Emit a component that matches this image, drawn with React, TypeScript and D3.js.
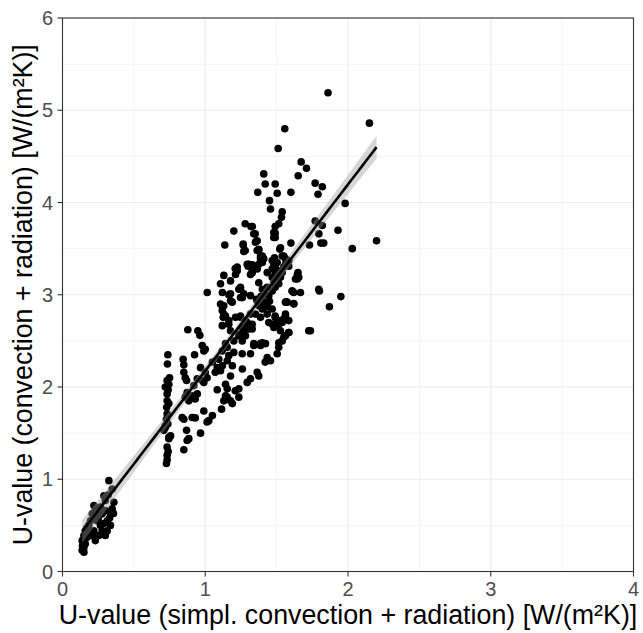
import React from "react";
import * as d3 from "d3";

// Read-off data: [simplified U-value, full U-value] in W/(m²K)
const lowCluster: [number, number][] = [
  [0.325,0.985],[0.348,0.895],[0.29,0.82],[0.30,0.77],[0.22,0.715],[0.23,0.66],[0.208,0.625],[0.196,0.55],
  [0.184,0.50],[0.16,0.44],[0.15,0.39],[0.138,0.335],[0.15,0.26],[0.243,0.55],[0.266,0.50],[0.278,0.44],
  [0.30,0.39],[0.313,0.55],[0.336,0.625],[0.348,0.68],[0.23,0.335],[0.255,0.39],[0.22,0.44],[0.173,0.37],
  [0.16,0.30],[0.336,0.50],[0.36,0.75],[0.30,0.66],[0.278,0.625],[0.138,0.23],[0.21,0.39],[0.313,0.44],
  [0.243,0.61],[0.266,0.70],[0.357,0.63],[0.32,0.83],[0.14,0.28],[0.15,0.21],[0.17,0.47],[0.25,0.57],
  [0.29,0.52],[0.145,0.32],[0.19,0.42],[0.33,0.58],
];

const stackCluster: [number, number][] = [
  [0.738,2.35],[0.733,2.07],[0.72,2.0],[0.733,1.925],[0.745,2.03],[0.733,1.85],[0.733,1.71],[0.728,1.65],
  [0.738,1.60],[0.72,1.56],[0.745,1.455],[0.733,1.35],[0.733,1.26],[0.728,1.17],[0.745,1.44],[0.757,1.47],
  [0.71,1.53],[0.72,1.58],[0.733,1.21],[0.74,1.30],[0.73,1.78],[0.74,1.97],[0.75,2.10],[0.735,2.25],[0.745,1.82],
];

const midCluster: [number, number][] = [
  [0.878,2.62],[0.948,2.61],[0.962,2.56],[0.845,2.30],[0.85,2.24],[0.925,2.35],[0.979,2.45],[0.99,2.39],
  [1.0,2.41],[0.85,2.16],[0.86,2.10],[0.869,2.07],[0.873,1.94],[0.86,1.89],[0.885,1.85],[0.908,1.905],
  [0.93,1.87],[0.944,1.925],[0.838,1.67],[0.85,1.65],[0.908,1.67],[0.93,1.665],[0.99,1.74],[1.05,1.69],
  [1.025,1.635],[1.013,1.62],[0.869,1.53],[0.885,1.44],[0.873,1.42],[0.85,1.32],[0.967,1.50],[1.114,1.76],
  [1.154,1.89],[1.13,1.85],[1.084,1.97],[1.142,2.03],[1.154,1.98],[1.142,1.905],[1.177,1.85],[1.19,1.82],
  [1.235,1.89],[1.235,1.98],[1.21,1.96],[1.177,2.12],[1.26,2.195],[1.19,2.23],[1.154,2.285],[1.12,2.23],
  [1.084,2.21],[1.05,2.27],[1.095,2.30],[1.07,2.16],[0.967,2.21],[1.0,2.16],[1.013,2.10],[0.99,2.05],
  [0.979,2.07],[0.944,2.09],[0.92,2.015],[1.294,2.05],[1.317,2.09],[1.364,2.16],[1.375,2.12],[1.42,2.27],
  [1.457,2.285],[1.434,2.32],[1.504,2.36],[1.515,2.43],[1.539,2.50],[1.562,2.556],[1.585,2.59],
  [1.107,2.177],[1.165,2.34],[1.119,2.39],[1.154,2.43],[1.20,2.375],[1.259,2.36],[1.317,2.36],[1.34,2.45],
  [1.387,2.47],[1.422,2.47],
];

const coreCluster: [number, number][] = [
  [1.107,2.90],[1.119,2.83],[1.126,2.755],[1.142,2.77],[1.165,2.68],[1.177,2.61],[1.212,2.755],[1.247,2.77],
  [1.282,2.72],[1.317,2.79],[1.329,2.68],[1.259,2.645],[1.305,2.63],[1.364,2.935],[1.40,2.88],[1.434,2.90],
  [1.725,2.61],[1.562,2.79],[1.539,2.72],[1.49,2.755],[1.504,2.665],[1.48,2.68],[1.62,2.905],[1.574,2.92],
  [1.266,3.55],[1.27,3.47],[1.34,3.66],[1.352,3.57],[1.375,3.49],[1.387,3.42],[1.40,3.35],[1.41,3.39],
  [1.49,3.62],[1.48,3.675],[1.522,3.495],[1.539,3.42],[1.504,3.35],[1.48,3.31],[1.13,3.21],[1.224,3.30],
  [1.212,3.22],[1.107,3.12],[1.014,3.025],[1.294,3.33],[1.434,3.24],[1.469,3.19],[1.562,3.33],[1.585,3.37],
  [1.645,3.22],[1.655,3.19],[1.609,3.04],[1.667,3.025],[1.795,3.06],[1.177,3.01],[1.189,2.92],[1.247,3.06],
  [1.259,2.97],[1.119,2.88],[1.13,2.79],[1.165,2.72],[1.119,2.665],[1.55,2.74],[1.585,2.72],[1.515,2.68],
  [1.48,2.645],[1.527,2.61],[1.585,2.59],[1.737,2.61],[1.20,2.50],[1.235,2.575],[1.27,2.61],[1.34,2.47],
  [1.387,2.45],[1.142,2.47],
  [1.305,3.33],[1.329,3.26],[1.387,3.39],[1.375,3.33],[1.469,3.37],[1.49,3.31],[1.515,3.26],[1.562,3.39],
  [1.585,3.31],[1.224,3.26],[1.235,3.06],[1.259,2.97],[1.375,3.13],[1.40,3.06],[1.434,3.08],[1.445,2.99],
  [1.469,3.04],[1.49,3.08],[1.504,3.15],[1.527,3.19],[1.539,3.24],[1.632,3.17],[1.609,3.04],[1.562,2.92],
  [1.41,2.92],[1.40,2.845],[1.375,2.88],[1.352,2.79],[1.387,2.755],[1.434,2.79],[1.469,2.845],[1.445,2.70],
  [1.247,2.755],[1.294,2.70],[1.305,2.645],[1.235,2.556],[1.282,2.556],[1.329,2.63],[1.49,2.77],[1.515,2.72],
  [1.562,2.77],[1.469,2.68],[1.539,2.70],[1.55,2.54],[1.40,2.48],[1.515,2.48],[1.259,2.50],
  [1.36,2.95],[1.39,2.98],[1.42,3.0],[1.45,2.93],[1.43,2.87],[1.38,2.90],
];

const upperCluster: [number, number][] = [
  [1.86,5.19],[2.15,4.86],[1.557,4.80],[1.511,4.585],[1.672,4.44],[1.709,4.37],[1.651,4.29],[1.41,4.31],
  [1.42,4.20],[1.49,4.20],[1.368,4.11],[1.504,4.10],[1.60,4.11],[1.77,4.21],[1.82,4.17],[1.79,4.09],
  [1.98,3.99],[1.45,4.02],[1.457,3.93],[1.539,3.90],[1.534,3.84],[1.49,3.74],[1.515,3.77],[1.48,3.62],
  [1.49,3.67],[1.33,3.74],[1.35,3.66],[1.364,3.585],[1.375,3.49],[1.40,3.42],[1.527,3.51],[1.55,3.42],
  [1.60,3.56],[1.77,3.80],[1.82,3.75],[1.796,3.66],[1.81,3.56],[1.83,3.56],[1.73,3.54],[1.93,3.70],
  [2.03,3.50],[2.20,3.585],[1.485,3.40],[1.20,3.69],[1.28,3.77],[1.32,3.74],[1.137,3.54],[1.266,3.54],
  [1.28,3.48],[1.364,3.48],[1.387,3.35],[1.21,3.285],[1.177,3.15],[1.12,3.025],[1.165,3.0],[1.177,2.935],
  [1.13,2.88],[1.247,3.08],[1.27,3.01],[1.247,2.97],[1.317,2.99],[1.30,3.31],[1.33,3.325],[1.317,3.22],
  [1.364,3.28],[1.33,3.24],[1.48,3.35],[1.469,3.28],[1.49,3.22],[1.50,3.19],[1.527,3.24],[1.48,3.15],
  [1.515,3.12],[1.55,3.30],[1.65,3.24],[1.645,3.17],[1.62,3.025],[1.80,3.04],[1.95,2.98],[1.87,2.87],
  [1.567,2.92],[1.62,2.90],
];

const xTicks = [0, 1, 2, 3, 4];
const yTicks = [0, 1, 2, 3, 4, 5, 6];
const xMinor = [0.5, 1.5, 2.5, 3.5];
const yMinor = [0.5, 1.5, 2.5, 3.5, 4.5, 5.5];
const xTitle = "U-value (simpl. convection + radiation) [W/(m²K)]";
const yTitle = "U-value (convection + radiation) [W/(m²K)]";

const W = 643, H = 633;
const left = 62.5, right = 633.5, top = 18, bottom = 571.5;

export default function App() {
  const data = [...lowCluster, ...stackCluster, ...midCluster, ...coreCluster, ...upperCluster];
  const x = d3.scaleLinear().domain([0, 4]).range([left, right]);
  const y = d3.scaleLinear().domain([0, 6]).range([bottom, top]);

  // linear model fit (geom_smooth method = "lm") with 95% CI
  const n = data.length;
  const mx = d3.mean(data, d => d[0])!;
  const my = d3.mean(data, d => d[1])!;
  const sxx = d3.sum(data, d => (d[0] - mx) ** 2);
  const sxy = d3.sum(data, d => (d[0] - mx) * (d[1] - my));
  const b = sxy / sxx;
  const a = my - b * mx;
  const sse = d3.sum(data, d => (d[1] - (a + b * d[0])) ** 2);
  const s = Math.sqrt(sse / (n - 2));
  const t = 1.968;
  const [xmin, xmax] = d3.extent(data, d => d[0]) as [number, number];
  const grid = d3.range(0, 81).map(i => xmin + (xmax - xmin) * i / 80);
  const fit = grid.map(g => {
    const yh = a + b * g;
    const se = s * Math.sqrt(1 / n + (g - mx) ** 2 / sxx);
    return { g, yh, lo: yh - t * se, hi: yh + t * se };
  });
  const band = d3.area<typeof fit[0]>().x(d => x(d.g)).y0(d => y(d.lo)).y1(d => y(d.hi))(fit) || "";
  const line = d3.line<typeof fit[0]>().x(d => x(d.g)).y(d => y(d.yh))(fit) || "";

  const font = "'Liberation Sans', Arial, Helvetica, sans-serif";

  return (
    <svg width={W} height={H} style={{ position: "absolute", left: 0, top: 0, display: "block", background: "#fff" }} fontFamily={font}>
      <rect x={0} y={0} width={W} height={H} fill="#fff" />
      {xMinor.map(v => <line key={"xm" + v} x1={x(v)} x2={x(v)} y1={top} y2={bottom} stroke="#ebebeb" strokeWidth={0.55} />)}
      {yMinor.map(v => <line key={"ym" + v} y1={y(v)} y2={y(v)} x1={left} x2={right} stroke="#ebebeb" strokeWidth={0.55} />)}
      {xTicks.map(v => <line key={"xM" + v} x1={x(v)} x2={x(v)} y1={top} y2={bottom} stroke="#ebebeb" strokeWidth={1.1} />)}
      {yTicks.map(v => <line key={"yM" + v} y1={y(v)} y2={y(v)} x1={left} x2={right} stroke="#ebebeb" strokeWidth={1.1} />)}
      <g>
        {data.map((d, i) => <circle key={i} cx={x(d[0])} cy={y(d[1])} r={3.8} fill="#000" />)}
      </g>
      <path d={band} fill="#999999" fillOpacity={0.4} />
      <path d={line} fill="none" stroke="#000" strokeWidth={2.6} />
      <rect x={left} y={top} width={right - left} height={bottom - top} fill="none" stroke="#333" strokeWidth={1.1} />
      {xTicks.map(v => (
        <g key={"xt" + v}>
          <line x1={x(v)} x2={x(v)} y1={bottom} y2={bottom + 5} stroke="#333" strokeWidth={1.1} />
          <text x={x(v)} y={bottom + 24.5} textAnchor="middle" fontSize={20} fill="#4d4d4d">{v}</text>
        </g>
      ))}
      {yTicks.map(v => (
        <g key={"yt" + v}>
          <line x1={left - 5} x2={left} y1={y(v)} y2={y(v)} stroke="#333" strokeWidth={1.1} />
          <text x={left - 9.5} y={y(v) + 7.2} textAnchor="end" fontSize={20} fill="#4d4d4d">{v}</text>
        </g>
      ))}
      <text x={(left + right) / 2} y={624} textAnchor="middle" fontSize={26.8} fill="#000">{xTitle}</text>
      <text transform={`translate(32,${(top + bottom) / 2}) rotate(-90)`} textAnchor="middle" fontSize={26.8} fill="#000">{yTitle}</text>
    </svg>
  );
}
